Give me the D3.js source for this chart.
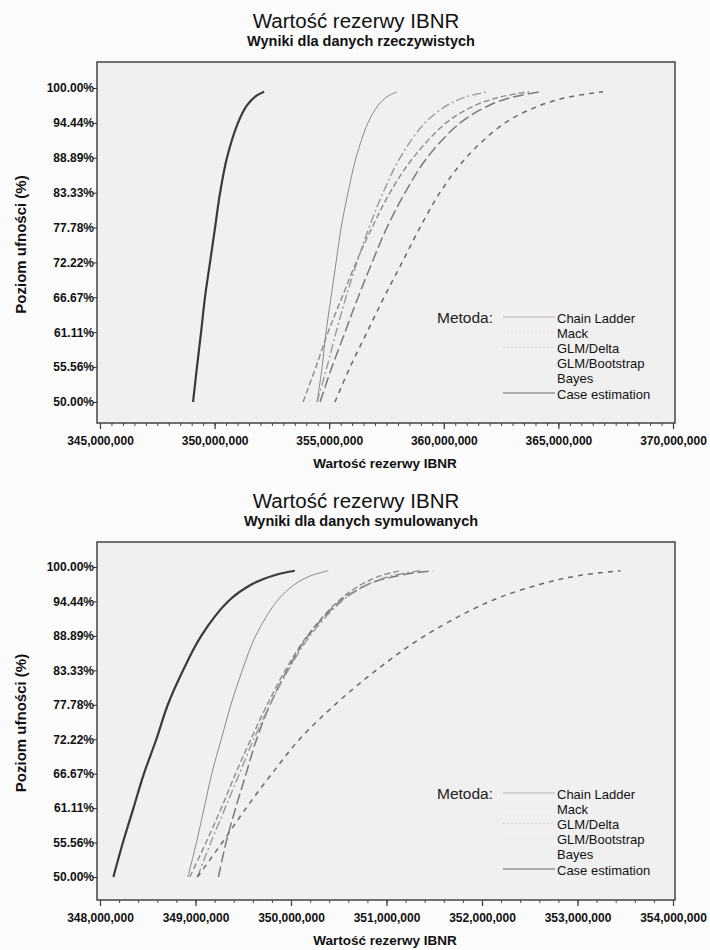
<!DOCTYPE html>
<html>
<head>
<meta charset="utf-8">
<script src="https://cdn.jsdelivr.net/npm/d3@7/dist/d3.min.js"></script>
<style>
  html, body { margin: 0; padding: 0; background: #fbfbfb; }
  svg { display: block; font-family: "Liberation Sans", Arial, sans-serif; }
</style>
</head>
<body>
<svg id="chart" width="710" height="950"></svg>
<script>
// ---------- DATA (values in millions PLN, confidence level in %) ----------
const methods = ["Chain Ladder", "Mack", "GLM/Delta", "GLM/Bootstrap", "Bayes", "Case estimation"];
const yTickValues = [50, 55.56, 61.11, 66.67, 72.22, 77.78, 83.33, 88.89, 94.44, 100];

// Chart 1: real data
const realXTicks = [345, 350, 355, 360, 365, 370];
const realLevels = [50, 55.56, 61.11, 66.67, 72.22, 77.78, 83.33, 88.89, 94.44, 97.22, 98.6, 99.4];
const realChainLadder  = [354.47, 354.69, 354.86, 355.08, 355.30, 355.52, 355.82, 356.17, 356.69, 357.13, 357.52, 357.96];
const realMack         = [353.86, 354.42, 354.95, 355.56, 356.17, 356.87, 357.65, 358.66, 360.10, 361.36, 362.50, 363.72];
const realGlmDelta     = [354.60, 355.12, 355.69, 356.26, 356.87, 357.52, 358.31, 359.27, 360.71, 361.97, 363.06, 364.24];
const realGlmBootstrap = [354.47, 354.90, 355.30, 355.73, 356.21, 356.74, 357.35, 358.09, 359.18, 360.14, 360.97, 361.93];
const realBayes        = [355.25, 355.91, 356.65, 357.39, 358.18, 358.96, 359.83, 360.97, 362.67, 364.20, 365.51, 366.95];
const realCase         = [349.06, 349.23, 349.41, 349.58, 349.80, 350.02, 350.24, 350.54, 351.02, 351.41, 351.76, 352.16];

// Chart 2: simulated data
const simXTicks = [348, 349, 350, 351, 352, 353, 354];
const simLevels = [50, 55.56, 61.11, 66.67, 72.22, 77.78, 83.33, 88.89, 94.44, 97.22, 98.6, 99.4];
const simChainLadder  = [348.92, 349.01, 349.09, 349.17, 349.27, 349.37, 349.49, 349.63, 349.85, 350.04, 350.21, 350.39];
const simMack         = [348.94, 349.11, 349.27, 349.42, 349.58, 349.75, 349.94, 350.17, 350.49, 350.74, 350.94, 351.14];
const simGlmDelta     = [349.24, 349.32, 349.42, 349.53, 349.64, 349.78, 349.96, 350.18, 350.51, 350.81, 351.12, 351.49];
const simGlmBootstrap = [349.02, 349.16, 349.31, 349.46, 349.61, 349.78, 349.97, 350.20, 350.53, 350.81, 351.06, 351.35];
const simBayes        = [349.02, 349.28, 349.53, 349.80, 350.09, 350.46, 350.89, 351.40, 352.08, 352.61, 353.01, 353.45];
const simCase         = [348.14, 348.24, 348.35, 348.46, 348.59, 348.71, 348.87, 349.06, 349.34, 349.59, 349.81, 350.04];

// ---------- STYLES ----------
const styles = {
  "Chain Ladder":    { stroke: "#8a8a8a", width: 1.0, dash: null,      legend: { stroke: "#b5b5b5", dash: null } },
  "Mack":            { stroke: "#8c8c8c", width: 1.4, dash: "6,3",     legend: { stroke: "#e4e4e4", dash: "2,2" } },
  "GLM/Delta":       { stroke: "#7a7a7a", width: 1.5, dash: "11,4",    legend: { stroke: "#cfcfcf", dash: "2,2" } },
  "GLM/Bootstrap":   { stroke: "#9a9a9a", width: 1.4, dash: "9,3,2,3", legend: { stroke: "#e8e8e8", dash: "2,2" } },
  "Bayes":           { stroke: "#6a6a6a", width: 1.5, dash: "5,5",     legend: { stroke: "#ebebeb", dash: "2,2" } },
  "Case estimation": { stroke: "#3a3a3a", width: 2.2, dash: null,      legend: { stroke: "#666666", dash: null } }
};

const svg = d3.select("#chart");
const fmtMoney = d3.format(",");

function drawChart(cfg) {
  const g = svg.append("g");
  const x = d3.scaleLinear().domain([cfg.xTicks[0], cfg.xTicks[cfg.xTicks.length - 1]]).range([100, 673]);
  const y = d3.scaleLinear().domain([50, 100]).range([cfg.y50, cfg.y100]);
  const fr = cfg.frame;

  // titles
  g.append("text").attr("x", 356).attr("y", cfg.titleY).attr("text-anchor", "middle")
    .attr("font-size", 20.5).attr("fill", "#111").text("Wartość rezerwy IBNR");
  g.append("text").attr("x", 361).attr("y", cfg.titleY + 18).attr("text-anchor", "middle")
    .attr("font-size", 14.5).attr("font-weight", "bold").attr("fill", "#111").text(cfg.subtitle);

  // plot background + frame
  g.append("rect").attr("x", fr.x0).attr("y", fr.y0).attr("width", fr.x1 - fr.x0).attr("height", fr.y1 - fr.y0)
    .attr("fill", "#f0f0f0").attr("stroke", "#444").attr("stroke-width", 1.5);

  // x axis major
  const xAxis = d3.axisBottom(x).tickValues(cfg.xTicks).tickSize(6).tickFormat(d => fmtMoney(Math.round(d * 1e6)));
  const xa = g.append("g").attr("transform", `translate(0,${fr.y1})`).call(xAxis);
  xa.select(".domain").remove();
  xa.selectAll("line").attr("stroke", "#333").attr("stroke-width", 1.2);
  xa.selectAll("text").attr("font-size", 12).attr("font-weight", "bold").attr("fill", "#111").attr("dy", "1.05em");
  // x minor ticks
  const minorX = d3.range(cfg.xTicks[0], cfg.xTicks[cfg.xTicks.length - 1] + 1e-9, cfg.minorStep);
  const xm = g.append("g").attr("transform", `translate(0,${fr.y1})`)
    .call(d3.axisBottom(x).tickValues(minorX).tickSize(3).tickFormat(""));
  xm.select(".domain").remove();
  xm.selectAll("line").attr("stroke", "#444");

  // y axis
  const yAxis = d3.axisLeft(y).tickValues(yTickValues).tickSize(4).tickFormat(d => d.toFixed(2) + "%");
  const ya = g.append("g").attr("transform", `translate(${fr.x0},0)`).call(yAxis);
  ya.select(".domain").remove();
  ya.selectAll("line").attr("stroke", "#333");
  ya.selectAll("text").attr("font-size", 12).attr("font-weight", "bold").attr("fill", "#111").attr("x", -3);

  // axis titles
  g.append("text").attr("x", 385).attr("y", fr.y1 + 45).attr("text-anchor", "middle")
    .attr("font-size", 13.5).attr("font-weight", "bold").attr("fill", "#111").text("Wartość rezerwy IBNR");
  g.append("text").attr("transform", `translate(26,${(fr.y0 + fr.y1) / 2 + 2}) rotate(-90)`)
    .attr("text-anchor", "middle").attr("font-size", 15).attr("font-weight", "bold").attr("fill", "#111").text("Poziom ufności (%)");

  // lines
  const line = d3.line().x(d => x(d.v)).y(d => y(d.p)).curve(d3.curveCatmullRom.alpha(0.5));
  cfg.series.forEach(s => {
    const st = styles[s.name];
    const pts = cfg.levels.map((p, i) => ({ p: p, v: s.values[i] }));
    g.append("path").datum(pts).attr("d", line).attr("fill", "none")
      .attr("stroke", st.stroke).attr("stroke-width", st.width)
      .attr("stroke-dasharray", st.dash).attr("stroke-linecap", "butt");
  });

  // legend
  const lg = g.append("g");
  lg.append("text").attr("x", 437).attr("y", cfg.legendY + 5).attr("font-size", 15.5).attr("fill", "#222").text("Metoda:");
  methods.forEach((m, i) => {
    const yy = cfg.legendY + i * 15.2;
    const st = styles[m].legend;
    lg.append("line").attr("x1", 503).attr("x2", 555).attr("y1", yy - 1).attr("y2", yy - 1)
      .attr("stroke", st.stroke).attr("stroke-width", 1)
      .attr("stroke-dasharray", st.dash);
    lg.append("text").attr("x", 557).attr("y", yy + 4.5).attr("font-size", 13).attr("fill", "#111").text(m);
  });
}

drawChart({
  titleY: 28, subtitle: "Wyniki dla danych rzeczywistych",
  frame: { x0: 97, x1: 675, y0: 62, y1: 423 },
  y50: 402, y100: 88, xTicks: realXTicks, minorStep: 0.5, legendY: 318, levels: realLevels,
  series: [
    { name: "Chain Ladder", values: realChainLadder },
    { name: "Mack", values: realMack },
    { name: "GLM/Delta", values: realGlmDelta },
    { name: "GLM/Bootstrap", values: realGlmBootstrap },
    { name: "Bayes", values: realBayes },
    { name: "Case estimation", values: realCase }
  ]
});

drawChart({
  titleY: 508, subtitle: "Wyniki dla danych symulowanych",
  frame: { x0: 97, x1: 675, y0: 542, y1: 900 },
  y50: 877, y100: 567, xTicks: simXTicks, minorStep: 0.2, legendY: 794, levels: simLevels,
  series: [
    { name: "Chain Ladder", values: simChainLadder },
    { name: "Mack", values: simMack },
    { name: "GLM/Delta", values: simGlmDelta },
    { name: "GLM/Bootstrap", values: simGlmBootstrap },
    { name: "Bayes", values: simBayes },
    { name: "Case estimation", values: simCase }
  ]
});
</script>
</body>
</html>
